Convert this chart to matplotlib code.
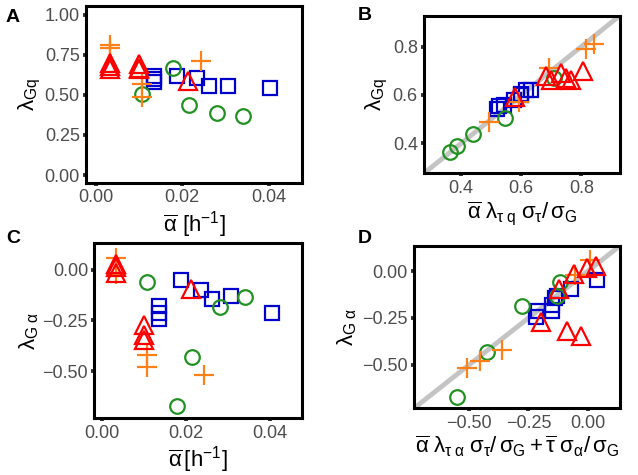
import numpy as np
import matplotlib
matplotlib.use('Agg')
import matplotlib.pyplot as plt

plt.rcParams['font.family'] = ['Liberation Sans', 'DejaVu Sans']
plt.rcParams['mathtext.fontset'] = 'custom'
plt.rcParams['mathtext.rm'] = 'Liberation Sans'
plt.rcParams['mathtext.it'] = 'Liberation Sans'
plt.rcParams['mathtext.bf'] = 'Liberation Sans:bold'

# --- data, one set of arrays per group -------------------------------------
# orange pluses
alpha_or = [0.0033, 0.0033, 0.0107, 0.0107, 0.0243]
lgq_or = [0.81, 0.79, 0.57, 0.49, 0.71]
lga_or = [0.06, -0.02, -0.42, -0.48, -0.52]
xb_or = [0.842, 0.815, 0.592, 0.492, 0.692]
xd_or = [0.01, -0.052, -0.361, -0.453, -0.51]

# red triangles
alpha_rd = [0.0033, 0.0033, 0.0033, 0.0100, 0.0100, 0.0100, 0.0213]
lgq_rd = [0.70, 0.68, 0.66, 0.69, 0.67, 0.66, 0.59]
lga_rd = [0.03, 0.015, -0.015, -0.27, -0.32, -0.345, -0.095]
xb_rd = [0.805, 0.683, 0.765, 0.733, 0.75, 0.70, 0.578]
xd_rd = [0.033, -0.002, -0.059, -0.197, -0.087, -0.028, -0.12]

# green circles
alpha_gr = [0.0107, 0.0179, 0.0215, 0.028, 0.034]
lgq_gr = [0.506, 0.671, 0.438, 0.389, 0.366]
lga_gr = [-0.059, -0.675, -0.431, -0.185, -0.134]
xb_gr = [0.545, 0.709, 0.44, 0.387, 0.362]
xd_gr = [-0.115, -0.551, -0.423, -0.276, -0.13]

# blue squares
alpha_bl = [0.0136, 0.0136, 0.0136, 0.0189, 0.0235, 0.0263, 0.0307, 0.0404]
lgq_bl = [0.62, 0.60, 0.58, 0.62, 0.603, 0.557, 0.554, 0.543]
lga_bl = [-0.18, -0.213, -0.243, -0.048, -0.097, -0.142, -0.130, -0.213]
xb_bl = [0.615, 0.598, 0.575, 0.631, 0.60, 0.542, 0.526, 0.52]
xd_bl = [-0.15, -0.21, -0.218, 0.038, -0.07, -0.14, -0.13, -0.15]

groups = [
    # colour, marker, size, alpha, lgq, lga, xb, xd
    ('#0000CD', 's', 10, alpha_bl, lgq_bl, lga_bl, xb_bl, xd_bl),
    ('#229122', 'o', 10.5, alpha_gr, lgq_gr, lga_gr, xb_gr, xd_gr),
    ('#FF8019', '+', 15, alpha_or, lgq_or, lga_or, xb_or, xd_or),
    ('#FF0000', '^', 13, alpha_rd, lgq_rd, lga_rd, xb_rd, xd_rd),
]

fig = plt.figure(figsize=(6.38, 4.75), dpi=100)
axA = fig.add_axes([0.1348, 0.6147, 0.3386, 0.3726])
axB = fig.add_axes([0.6646, 0.6352, 0.3067, 0.3318])
axC = fig.add_axes([0.1478, 0.1194, 0.3250, 0.3684])
axD = fig.add_axes([0.6489, 0.1404, 0.3224, 0.3417])


def style(ax):
    for s in ax.spines.values():
        s.set_linewidth(2.2)
        s.set_color('black')
    ax.tick_params(length=2.5, width=2.8, color='#333333',
                   labelcolor='#4D4D4D', labelsize=13, pad=2)


for col, mk, ms, a, gq, ga, xb, xd in groups:
    kw = dict(ls='none', marker=mk, ms=ms, mfc='none', mec=col, mew=1.6, zorder=3)
    axA.plot(a, gq, **kw)
    axB.plot(xb, gq, **kw)
    axC.plot(a, ga, **kw)
    axD.plot(xd, ga, **kw)

# identity lines
for ax, lim in [(axB, (0.276, 0.928)), (axD, (-0.733, 0.135))]:
    ax.plot(lim, lim, color='#C4C4C4', lw=3.5, zorder=1)
    ax.set_xlim(lim)
    ax.set_ylim(lim)

axA.set_xlim(-0.00225, 0.04775)
axA.set_ylim(-0.05, 1.055)
axA.set_xticks([0.0, 0.02, 0.04])
axA.set_xticklabels(['0.00', '0.02', '0.04'])
axA.set_yticks([0, 0.25, 0.5, 0.75, 1.0])
axA.set_yticklabels(['0.00', '0.25', '0.50', '0.75', '1.00'])

axC.set_xlim(-0.00176, 0.0475)
axC.set_ylim(-0.734, 0.132)
axC.set_xticks([0.0, 0.02, 0.04])
axC.set_xticklabels(['0.00', '0.02', '0.04'])
axC.set_yticks([-0.5, -0.25, 0.0])
axC.set_yticklabels(['\u22120.50', '\u22120.25', '0.00'])

axB.set_xticks([0.4, 0.6, 0.8])
axB.set_yticks([0.4, 0.6, 0.8])
axD.set_xticks([-0.5, -0.25, 0.0])
axD.set_xticklabels(['\u22120.50', '\u22120.25', '0.00'])
axD.set_yticks([-0.5, -0.25, 0.0])
axD.set_yticklabels(['\u22120.50', '\u22120.25', '0.00'])

for ax in (axA, axB, axC, axD):
    style(ax)

lab = dict(fontsize=16, color='black')
axA.set_xlabel(r'$\overline{\alpha}$ [h$^{-1}$]', labelpad=2, **lab)
axC.set_xlabel(r'$\overline{\alpha}\,$[h$^{-1}$]', labelpad=2, **lab)
axA.set_ylabel(r'$\lambda_{\mathrm{Gq}}$', labelpad=1, **lab)
axC.set_ylabel(r'$\lambda_{\mathrm{G\ \alpha}}$', labelpad=1, **lab)
axB.set_ylabel(r'$\lambda_{\mathrm{Gq}}$', labelpad=2, **lab)
axD.set_ylabel(r'$\lambda_{\mathrm{G\ \alpha}}$', labelpad=2, **lab)
axB.set_xlabel(r'$\overline{\alpha}\;\lambda_{\tau\ \mathrm{q}}\;\sigma_{\tau}/\,\sigma_{\mathrm{G}}$',
               labelpad=2, **lab)
axD.set_xlabel(r'$\overline{\alpha}\;\lambda_{\tau\ \alpha}\;\sigma_{\tau}/\,\sigma_{\mathrm{G}}'
               r'+\overline{\tau}\;\sigma_{\alpha}/\,\sigma_{\mathrm{G}}$',
               labelpad=2, **lab)

# panel letters
for txt, x, y in [('A', 13, 17), ('B', 365, 16), ('C', 13, 238), ('D', 365, 238)]:
    fig.text(x / 638, 1 - y / 475, txt, fontsize=14, fontweight='bold',
             va='center', ha='center')

fig.savefig('out.png', dpi=100)
